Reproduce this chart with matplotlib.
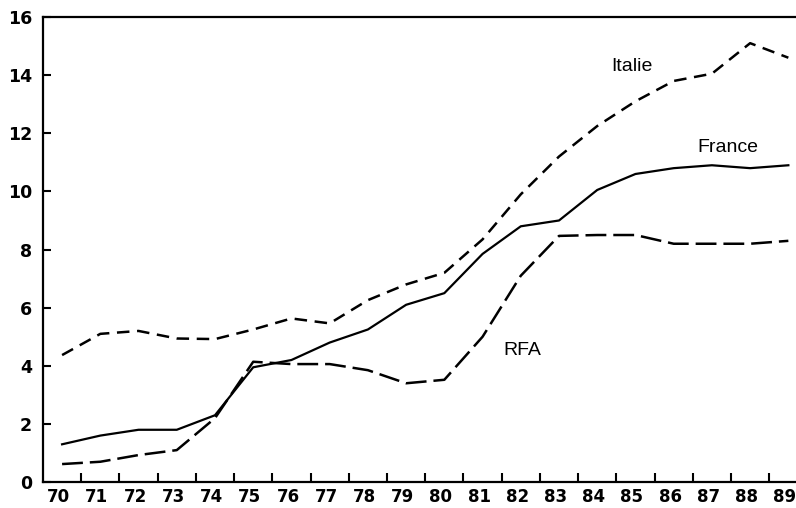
import matplotlib
matplotlib.use("Agg")
import matplotlib.pyplot as plt
import matplotlib.transforms as mtransforms
from matplotlib.ticker import FixedLocator

matplotlib.rcParams['lines.scale_dashes'] = False

years = list(range(70, 90))
year_labels = [str(y) for y in years]
france = [1.3, 1.6, 1.8, 1.8, 2.3, 3.95, 4.2, 4.8, 5.25, 6.1, 6.5, 7.85, 8.8, 9.0, 10.05, 10.6, 10.8, 10.9, 10.8, 10.9]
italie = [4.37, 5.1, 5.2, 4.94, 4.92, 5.25, 5.63, 5.46, 6.26, 6.8, 7.2, 8.35, 9.9, 11.2, 12.25, 13.1, 13.8, 14.05, 15.1, 14.6]
rfa = [0.62, 0.7, 0.93, 1.1, 2.2, 4.14, 4.06, 4.06, 3.85, 3.4, 3.52, 5.0, 7.1, 8.47, 8.5, 8.5, 8.2, 8.2, 8.2, 8.3]
y_ticks = [0, 2, 4, 6, 8, 10, 12, 14, 16]

fig = plt.figure(figsize=(7.96, 5.08), dpi=100)
ax = fig.add_axes([0.054, 0.051, 0.946, 0.9155])

ax.plot(years, france, color='black', lw=1.6)
ax.plot(years, italie, color='black', lw=1.8, dashes=(9, 5.5))
ax.plot(years, rfa, color='black', lw=1.8, dashes=(15, 5))

ax.text(84.92, 14.31, "Italie", fontsize=14, family='Liberation Sans', ha='center', va='center')
ax.text(87.41, 11.51, "France", fontsize=14, family='Liberation Sans', ha='center', va='center')
ax.text(82.04, 4.54, "RFA", fontsize=14, family='Liberation Sans', ha='center', va='center')

ax.set_xlim(69.5, 89.2)
ax.set_ylim(0, 16)

ax.xaxis.set_major_locator(FixedLocator(years))
ax.set_xticklabels(year_labels, fontsize=12, fontweight='bold')
ax.xaxis.set_minor_locator(FixedLocator([y + 0.5 for y in years[:-1]]))
ax.tick_params(axis='x', which='major', length=0, pad=4)
ax.tick_params(axis='x', which='minor', direction='in', length=6.5, width=1.5)
# labels sit a little left of the data points in the original
shift = mtransforms.ScaledTranslation(-0.035, 0, fig.dpi_scale_trans)
for lab in ax.get_xticklabels():
    lab.set_transform(lab.get_transform() + shift)

ax.set_yticks(y_ticks)
ax.set_yticklabels([str(v) for v in y_ticks], fontsize=12.5, fontweight='bold')
ax.tick_params(axis='y', direction='in', length=5.5, width=1.5, pad=8)

ax.spines['right'].set_visible(False)
for s in ['left', 'bottom', 'top']:
    ax.spines[s].set_linewidth(1.6)

fig.savefig("out.png", dpi=100)
